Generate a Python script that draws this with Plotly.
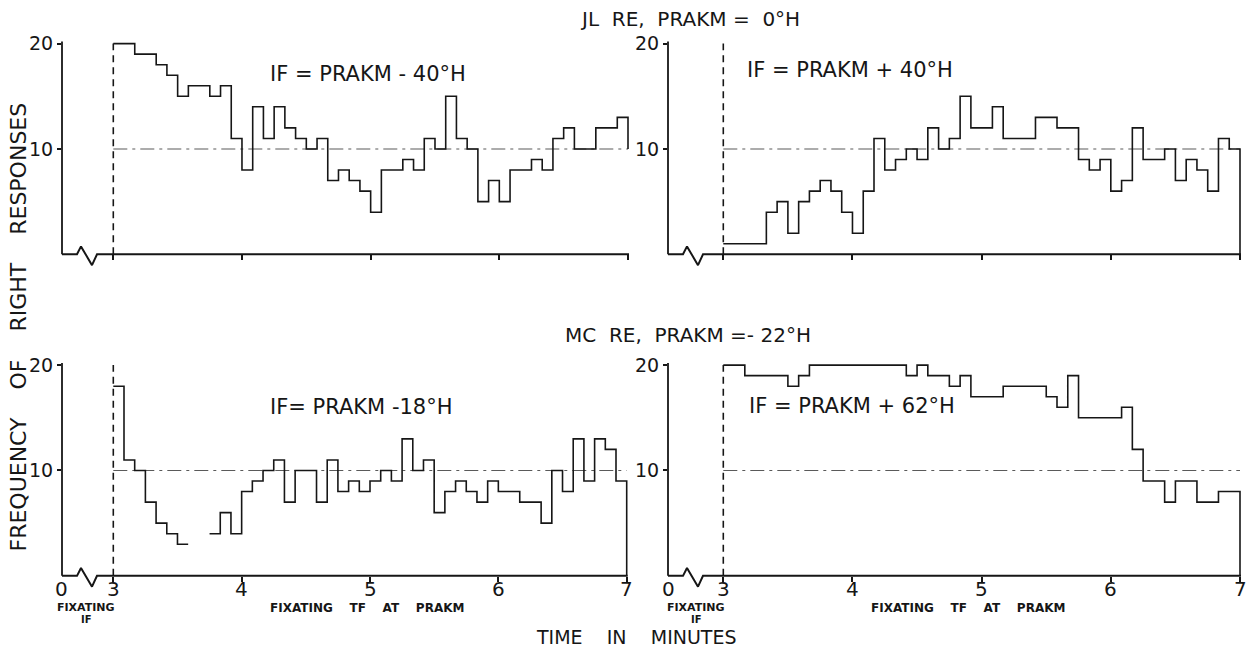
import plotly.graph_objects as go

W, H = 1254, 653

# ---------------- data (frequency of right responses, 5-s bins from 3 to 7 min) ----------------
BIN_START = 3.0
BIN_WIDTH = 1.0 / 12.0
CHANCE = 10

jl_minus40 = [20, 20, 19, 19, 18, 17, 15, 16, 16, 15, 16, 11, 8, 14, 11, 14, 12, 11, 10, 11, 7, 8, 7, 6,
              4, 8, 8, 9, 8, 11, 10, 15, 11, 10, 5, 7, 5, 8, 8, 9, 8, 11, 12, 10, 10, 12, 12, 13]
jl_plus40 = [1, 1, 1, 1, 4, 5, 2, 5, 6, 7, 6, 4, 2, 6, 11, 8, 9, 10, 9, 12, 10, 11, 15, 12,
             12, 14, 11, 11, 11, 13, 13, 12, 12, 9, 8, 9, 6, 7, 12, 9, 9, 10, 7, 9, 8, 6, 11, 10]
mc_minus18 = [18, 11, 10, 7, 5, 4, 3, None, None, 4, 6, 4, 8, 9, 10, 11, 7, 10, 10, 7, 11, 8, 9, 8,
              9, 10, 9, 13, 10, 11, 6, 8, 9, 8, 7, 9, 8, 8, 7, 7, 5, 10, 8, 13, 9, 13, 12, 9]
mc_plus62 = [20, 20, 19, 19, 19, 19, 18, 19, 20, 20, 20, 20, 20, 20, 20, 20, 20, 19, 20, 19, 19, 18, 19, 17,
             17, 17, 18, 18, 18, 18, 17, 16, 19, 15, 15, 15, 15, 16, 12, 9, 9, 7, 9, 9, 7, 7, 8, 8]

panel_labels = ["IF = PRAKM - 40°H", "IF = PRAKM + 40°H", "IF= PRAKM -18°H", "IF = PRAKM + 62°H"]
group_titles = ["JL\u00a0\u00a0RE,\u00a0 PRAKM\u00a0=\u00a0\u00a00°H", "MC\u00a0\u00a0RE,\u00a0 PRAKM\u00a0=-\u00a022°H"]
x_ticks = [3, 4, 5, 6, 7]
x_ticktext_bottom = ["0", "3", "4", "5", "6", "7"]
y_ticks = [10, 20]

series = [jl_minus40, jl_plus40, mc_minus18, mc_plus62]
close_to = [10, 0, 0, 0]

# ---------------- layout geometry (pixels) ----------------
geo = [
    dict(axis_px=62, p3=113.3, p7=628.0, base=250, top20=37, bottom=False),
    dict(axis_px=668, p3=723.3, p7=1240.0, base=250, top20=37, bottom=False),
    dict(axis_px=62, p3=113.3, p7=626.7, base=575, top20=362, bottom=True),
    dict(axis_px=668, p3=723.3, p7=1240.0, base=575, top20=362, bottom=True),
]

INK = "#161616"
FONT = "DejaVu Sans"

fig = go.Figure()
layout = dict(width=W, height=H, margin=dict(l=0, r=0, t=0, b=0),
              paper_bgcolor="white", plot_bgcolor="rgba(0,0,0,0)", showlegend=False)
annotations = []


def step_xy(values, end_value):
    xs, ys = [], []
    last = None
    for i, v in enumerate(values):
        if v is None:
            xs.append(None)
            ys.append(None)
            continue
        a = BIN_START + i * BIN_WIDTH
        b = a + BIN_WIDTH
        xs += [a, b]
        ys += [v, v]
        last = b
    xs.append(last)
    ys.append(end_value)
    return xs, ys


for k, (g, vals) in enumerate(zip(geo, series)):
    n = k + 1
    S = (g["p7"] - g["p3"]) / 4.0
    unit = (g["base"] - g["top20"]) / 20.0
    xa = 3.0 - (g["p3"] - g["axis_px"]) / S
    xb = 7.02
    ytop = 20.4
    xd = [g["axis_px"] / W, (g["p3"] + (xb - 3.0) * S) / W]
    yd = [1 - g["base"] / H, 1 - (g["base"] - ytop * unit) / H]

    xid = "x" if n == 1 else f"x{n}"
    yid = "y" if n == 1 else f"y{n}"
    xkey = "xaxis" if n == 1 else f"xaxis{n}"
    ykey = "yaxis" if n == 1 else f"yaxis{n}"

    layout[xkey] = dict(domain=xd, range=[xa, xb], anchor=yid, showline=False, showgrid=False,
                        zeroline=False, ticks="outside", ticklen=5, tickwidth=1.6, tickcolor=INK,
                        tickvals=x_ticks, showticklabels=False)
    layout[ykey] = dict(domain=yd, range=[0, ytop], anchor=xid, showline=False, showgrid=False,
                        zeroline=False, ticks="outside", ticklen=4, tickwidth=1.5, tickcolor=INK,
                        tickvals=y_ticks, ticktext=[str(t) for t in y_ticks],
                        tickfont=dict(family=FONT, size=19, color=INK))

    if g["bottom"]:
        for tv, tt in zip([xa] + x_ticks, x_ticktext_bottom):
            annotations.append(dict(text=tt, x=tv, y=1 - 588 / H, xref=xid, yref="paper",
                                    showarrow=False, xanchor="center", yanchor="middle",
                                    font=dict(family=FONT, size=20, color=INK)))

    # decoration subplot (axis lines + break symbol), slightly larger so nothing is clipped
    m = n + 4
    dxid, dyid = f"x{m}", f"y{m}"
    pad_x = 8.0
    pad_lo, pad_hi = 1.6, 20.8
    layout[f"xaxis{m}"] = dict(domain=[(g["axis_px"] - pad_x) / W, (g["p3"] + (xb - 3.0) * S + pad_x) / W],
                               range=[xa - pad_x / S, xb + pad_x / S], visible=False, anchor=dyid)
    layout[f"yaxis{m}"] = dict(domain=[1 - (g["base"] + pad_lo * unit) / H, 1 - (g["base"] - pad_hi * unit) / H],
                               range=[-pad_lo, pad_hi], visible=False, anchor=dxid)

    bx = [xa, xa + 15 / S, xa + 19 / S, xa + 30 / S, xa + 35 / S, 7.0 + 1.0 / S]
    by = [0, 0, 0.75, -1.03, 0, 0]
    fig.add_trace(go.Scatter(x=bx, y=by, mode="lines", xaxis=dxid, yaxis=dyid,
                             line=dict(color=INK, width=2.0), hoverinfo="skip"))
    fig.add_trace(go.Scatter(x=[xa, xa], y=[0, 20.2], mode="lines", xaxis=dxid, yaxis=dyid,
                             line=dict(color=INK, width=1.8), hoverinfo="skip"))

    # chance line
    fig.add_trace(go.Scatter(x=[3.0, 7.0], y=[CHANCE, CHANCE], mode="lines", xaxis=xid, yaxis=yid,
                             line=dict(color="#5a5a5a", width=1.1, dash="14px,5px,3px,5px"),
                             hoverinfo="skip"))
    # vertical dashed line at minute 3
    fig.add_trace(go.Scatter(x=[3.0, 3.0], y=[0, 20], mode="lines", xaxis=xid, yaxis=yid,
                             line=dict(color=INK, width=1.6, dash="7px,5px"), hoverinfo="skip"))
    # step histogram
    sx, sy = step_xy(vals, close_to[k])
    fig.add_trace(go.Scatter(x=sx, y=sy, mode="lines", xaxis=xid, yaxis=yid,
                             line=dict(color=INK, width=1.6), connectgaps=False, hoverinfo="skip"))


def ann(text, xp, yp, size, bold=False, angle=0):
    t = f"<b>{text}</b>" if bold else text
    annotations.append(dict(text=t, x=xp / W, y=1 - yp / H, xref="paper", yref="paper",
                            showarrow=False, xanchor="center", yanchor="middle", textangle=angle,
                            font=dict(family=FONT, size=size, color=INK)))


ann(group_titles[0], 690, 12, 20)
ann(group_titles[1], 688, 332, 20)
ann(panel_labels[0], 368, 68, 21)
ann(panel_labels[1], 850, 64, 21)
ann(panel_labels[2], 361, 404, 21)
ann(panel_labels[3], 852, 403, 21)

sp4 = "\u00a0" * 3
for cx, cxf in [(86, 367), (696, 968)]:
    ann("FIXATING", cx, 607, 11, bold=True)
    ann("IF", cx, 619, 10, bold=True)
    ann(f"FIXATING{sp4} TF{sp4} AT{sp4} PRAKM", cxf, 608, 12, bold=True)

ann("TIME\u00a0\u00a0\u00a0 IN\u00a0\u00a0\u00a0 MINUTES", 636, 637, 19)
gap = "\u00a0" * 4
ann(f"FREQUENCY{gap}OF{gap}RIGHT{gap}RESPONSES", 19, 324, 22, angle=-90)

layout["annotations"] = annotations
fig.update_layout(**layout)
fig.write_html("out.html")
